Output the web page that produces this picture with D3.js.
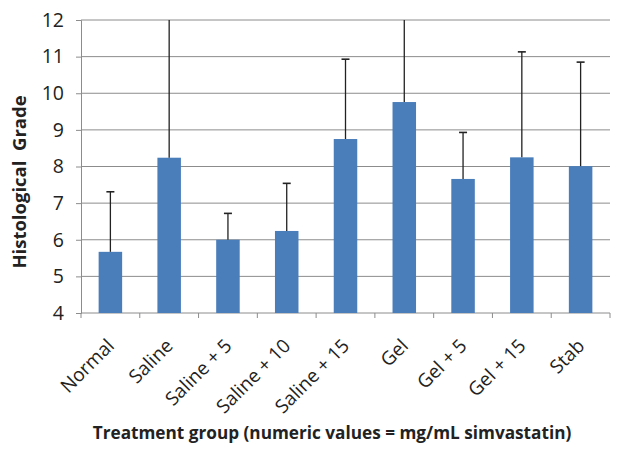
<!DOCTYPE html>
<html><head><meta charset="utf-8">
<script src="https://cdn.jsdelivr.net/npm/d3@7"></script>
<style>body{margin:0;background:#fff;}svg{display:block;}</style>
</head><body>
<svg id="c" width="621" height="461"></svg>
<script>
const categories = ["Normal","Saline","Saline + 5","Saline + 10","Saline + 15","Gel","Gel + 5","Gel + 15","Stab"];
const means = [5.67, 8.24, 6.0, 6.24, 8.75, 9.76, 7.66, 8.25, 8.01];
const errUpper = [7.31, 12.6, 6.72, 7.54, 10.93, 12.9, 8.93, 11.13, 10.85];
const yTicks = [4,5,6,7,8,9,10,11,12];
const yTitle = "Histological  Grade";
const xTitle = "Treatment group (numeric values = mg/mL simvastatin)";

const svg = d3.select("#c");
const m = {l:81, r:11, t:20, b:148};
const W = 621, H = 461;
const x = d3.scaleBand().domain(categories).range([m.l, W-m.r]).paddingInner(0.6).paddingOuter(0.3);
const xb = d3.scaleBand().domain(categories).range([m.l, W-m.r]);
const y = d3.scaleLinear().domain([4,12]).range([H-m.b, m.t]);
const font = "'Open Sans', 'Liberation Sans', sans-serif";
const grid = "#8c8c8c";

// gridlines
svg.append("g").selectAll("line").data(yTicks.filter(d=>d>4)).join("line")
  .attr("x1", m.l).attr("x2", W-m.r).attr("y1", d=>y(d)).attr("y2", d=>y(d))
  .attr("stroke", grid).attr("stroke-width", 1);

// y axis
const ya = svg.append("g").attr("transform", `translate(${m.l},0)`)
  .call(d3.axisLeft(y).tickValues(yTicks).tickSize(5).tickPadding(12).tickFormat(d3.format("d")));
ya.select(".domain").attr("stroke", grid);
ya.selectAll(".tick line").attr("stroke", grid);
ya.selectAll("text").attr("font-family", font).attr("font-size", 19.5).attr("fill", "#222");

// x axis with tick marks at band boundaries
const xa = svg.append("g").attr("transform", `translate(0,${y(4)})`);
xa.append("line").attr("x1", m.l).attr("x2", W-m.r).attr("stroke", grid);
const bounds = categories.map(c=>xb(c)).concat([W-m.r]);
xa.selectAll("line.tk").data(bounds).join("line").attr("class","tk")
  .attr("x1", d=>d).attr("x2", d=>d).attr("y1", 0).attr("y2", 5).attr("stroke", grid);
xa.selectAll("text").data(categories).join("text")
  .attr("transform", d=>`translate(${xb(d)+xb.bandwidth()/2+5},${34}) rotate(-45)`)
  .attr("text-anchor", "end").attr("font-family", font).attr("font-size", 19).attr("fill", "#222")
  .text(d=>d);

// clip for error bars
svg.append("clipPath").attr("id","pc").append("rect")
  .attr("x", m.l).attr("y", m.t).attr("width", W-m.l-m.r).attr("height", H-m.b-m.t);

// bars
svg.append("g").selectAll("rect").data(categories).join("rect")
  .attr("x", d=>x(d)).attr("width", x.bandwidth())
  .attr("y", (d,i)=>y(means[i])).attr("height", (d,i)=>y(4)-y(means[i]))
  .attr("fill", "#4a7ebb");

// error bars
const eg = svg.append("g").attr("clip-path","url(#pc)");
categories.forEach((c,i)=>{
  const cx = x(c)+x.bandwidth()/2;
  eg.append("line").attr("x1",cx).attr("x2",cx).attr("y1",y(means[i])).attr("y2",y(errUpper[i]))
    .attr("stroke","#222").attr("stroke-width",1.3);
  eg.append("line").attr("x1",cx-4).attr("x2",cx+4).attr("y1",y(errUpper[i])).attr("y2",y(errUpper[i]))
    .attr("stroke","#222").attr("stroke-width",1.6);
});

// titles
svg.append("text").attr("transform", `translate(21,182) rotate(-90)`)
  .attr("text-anchor","middle").attr("dominant-baseline","middle")
  .attr("font-family", font).attr("font-weight","bold").attr("font-size",18.5).attr("fill","#222")
  .attr("xml:space","preserve").style("white-space","pre")
  .text(yTitle);
svg.append("text").attr("x", 332).attr("y", 439).attr("text-anchor","middle")
  .attr("font-family", font).attr("font-weight","bold").attr("font-size",17.2).attr("fill","#222")
  .text(xTitle);
</script>
</body></html>
